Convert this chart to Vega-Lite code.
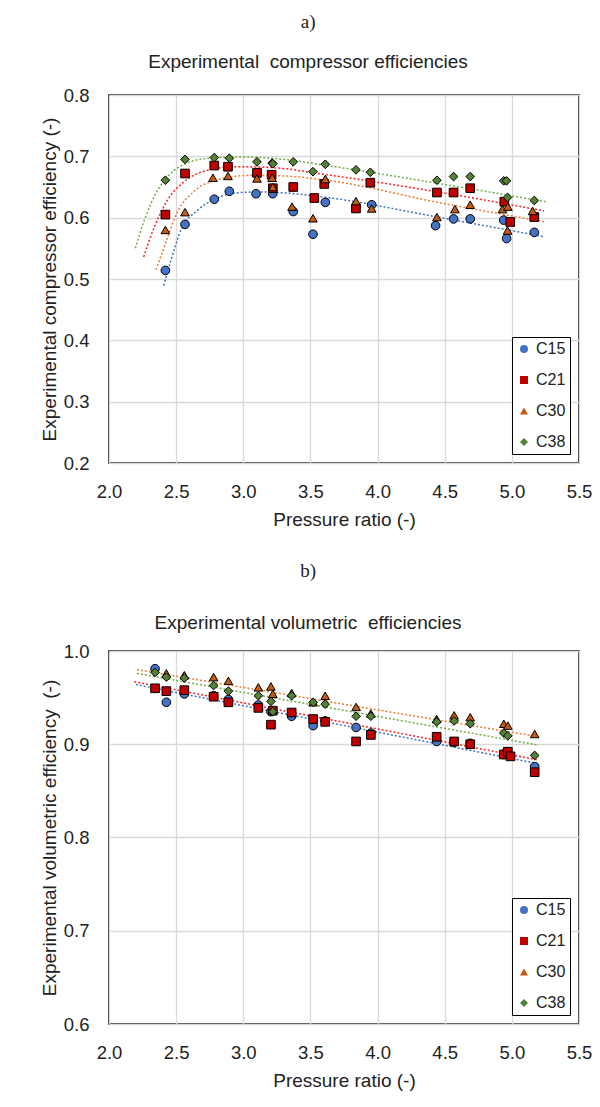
{
  "$schema": "https://vega.github.io/schema/vega-lite/v6.json",
  "padding": {"left": 39, "top": 12, "right": 5, "bottom": 5},
  "datasets": {
    "comp": [
      {"pr": 2.42, "eta": 0.514, "series": "C15"}, {"pr": 2.566, "eta": 0.589, "series": "C15"}, {"pr": 2.784, "eta": 0.630, "series": "C15"}, {"pr": 2.896, "eta": 0.643, "series": "C15"}, {"pr": 3.095, "eta": 0.639, "series": "C15"}, {"pr": 3.219, "eta": 0.639, "series": "C15"}, {"pr": 3.372, "eta": 0.610, "series": "C15"}, {"pr": 3.519, "eta": 0.573, "series": "C15"}, {"pr": 3.611, "eta": 0.625, "series": "C15"}, {"pr": 3.839, "eta": 0.618, "series": "C15"}, {"pr": 3.956, "eta": 0.621, "series": "C15"}, {"pr": 4.432, "eta": 0.587, "series": "C15"}, {"pr": 4.566, "eta": 0.598, "series": "C15"}, {"pr": 4.690, "eta": 0.598, "series": "C15"}, {"pr": 4.939, "eta": 0.596, "series": "C15"}, {"pr": 4.961, "eta": 0.566, "series": "C15"}, {"pr": 5.167, "eta": 0.576, "series": "C15"},
      {"pr": 2.42, "eta": 0.605, "series": "C21"}, {"pr": 2.566, "eta": 0.672, "series": "C21"}, {"pr": 2.784, "eta": 0.685, "series": "C21"}, {"pr": 2.886, "eta": 0.683, "series": "C21"}, {"pr": 3.102, "eta": 0.673, "series": "C21"}, {"pr": 3.211, "eta": 0.670, "series": "C21"}, {"pr": 3.22, "eta": 0.648, "series": "C21"}, {"pr": 3.372, "eta": 0.650, "series": "C21"}, {"pr": 3.529, "eta": 0.632, "series": "C21"}, {"pr": 3.603, "eta": 0.655, "series": "C21"}, {"pr": 3.839, "eta": 0.615, "series": "C21"}, {"pr": 3.946, "eta": 0.657, "series": "C21"}, {"pr": 4.442, "eta": 0.641, "series": "C21"}, {"pr": 4.566, "eta": 0.641, "series": "C21"}, {"pr": 4.690, "eta": 0.648, "series": "C21"}, {"pr": 4.944, "eta": 0.626, "series": "C21"}, {"pr": 4.988, "eta": 0.593, "series": "C21"}, {"pr": 5.167, "eta": 0.601, "series": "C21"},
      {"pr": 2.42, "eta": 0.580, "series": "C30"}, {"pr": 2.566, "eta": 0.609, "series": "C30"}, {"pr": 2.774, "eta": 0.665, "series": "C30"}, {"pr": 2.886, "eta": 0.668, "series": "C30"}, {"pr": 3.102, "eta": 0.664, "series": "C30"}, {"pr": 3.215, "eta": 0.665, "series": "C30"}, {"pr": 3.22, "eta": 0.650, "series": "C30"}, {"pr": 3.363, "eta": 0.618, "series": "C30"}, {"pr": 3.519, "eta": 0.599, "series": "C30"}, {"pr": 3.611, "eta": 0.663, "series": "C30"}, {"pr": 3.839, "eta": 0.627, "series": "C30"}, {"pr": 3.956, "eta": 0.615, "series": "C30"}, {"pr": 4.442, "eta": 0.601, "series": "C30"}, {"pr": 4.576, "eta": 0.614, "series": "C30"}, {"pr": 4.690, "eta": 0.621, "series": "C30"}, {"pr": 4.93, "eta": 0.614, "series": "C30"}, {"pr": 4.97, "eta": 0.618, "series": "C30"}, {"pr": 4.968, "eta": 0.579, "series": "C30"}, {"pr": 5.155, "eta": 0.611, "series": "C30"},
      {"pr": 2.42, "eta": 0.661, "series": "C38"}, {"pr": 2.566, "eta": 0.695, "series": "C38"}, {"pr": 2.784, "eta": 0.698, "series": "C38"}, {"pr": 2.896, "eta": 0.697, "series": "C38"}, {"pr": 3.102, "eta": 0.691, "series": "C38"}, {"pr": 3.215, "eta": 0.689, "series": "C38"}, {"pr": 3.22, "eta": 0.688, "series": "C38"}, {"pr": 3.372, "eta": 0.691, "series": "C38"}, {"pr": 3.519, "eta": 0.675, "series": "C38"}, {"pr": 3.611, "eta": 0.687, "series": "C38"}, {"pr": 3.839, "eta": 0.678, "series": "C38"}, {"pr": 3.946, "eta": 0.674, "series": "C38"}, {"pr": 4.442, "eta": 0.661, "series": "C38"}, {"pr": 4.566, "eta": 0.667, "series": "C38"}, {"pr": 4.690, "eta": 0.667, "series": "C38"}, {"pr": 4.939, "eta": 0.660, "series": "C38"}, {"pr": 4.96, "eta": 0.660, "series": "C38"}, {"pr": 4.968, "eta": 0.633, "series": "C38"}, {"pr": 5.167, "eta": 0.628, "series": "C38"}
    ],
    "compTrend": [
      {"pr": 2.407, "eta": 0.489, "fit": "C15 fit"}, {"pr": 2.462, "eta": 0.531, "fit": "C15 fit"}, {"pr": 2.536, "eta": 0.580, "fit": "C15 fit"}, {"pr": 2.66, "eta": 0.612, "fit": "C15 fit"}, {"pr": 2.784, "eta": 0.630, "fit": "C15 fit"}, {"pr": 2.933, "eta": 0.640, "fit": "C15 fit"}, {"pr": 3.13, "eta": 0.642, "fit": "C15 fit"}, {"pr": 3.33, "eta": 0.640, "fit": "C15 fit"}, {"pr": 3.653, "eta": 0.632, "fit": "C15 fit"}, {"pr": 4.447, "eta": 0.601, "fit": "C15 fit"}, {"pr": 5.24, "eta": 0.569, "fit": "C15 fit"},
      {"pr": 2.258, "eta": 0.536, "fit": "C21 fit"}, {"pr": 2.338, "eta": 0.585, "fit": "C21 fit"}, {"pr": 2.437, "eta": 0.629, "fit": "C21 fit"}, {"pr": 2.561, "eta": 0.659, "fit": "C21 fit"}, {"pr": 2.685, "eta": 0.674, "fit": "C21 fit"}, {"pr": 2.933, "eta": 0.683, "fit": "C21 fit"}, {"pr": 3.18, "eta": 0.682, "fit": "C21 fit"}, {"pr": 3.653, "eta": 0.669, "fit": "C21 fit"}, {"pr": 4.447, "eta": 0.642, "fit": "C21 fit"}, {"pr": 5.24, "eta": 0.611, "fit": "C21 fit"},
      {"pr": 2.35, "eta": 0.515, "fit": "C30 fit"}, {"pr": 2.412, "eta": 0.553, "fit": "C30 fit"}, {"pr": 2.511, "eta": 0.610, "fit": "C30 fit"}, {"pr": 2.635, "eta": 0.643, "fit": "C30 fit"}, {"pr": 2.809, "eta": 0.662, "fit": "C30 fit"}, {"pr": 3.057, "eta": 0.669, "fit": "C30 fit"}, {"pr": 3.30, "eta": 0.668, "fit": "C30 fit"}, {"pr": 3.653, "eta": 0.660, "fit": "C30 fit"}, {"pr": 4.447, "eta": 0.625, "fit": "C30 fit"}, {"pr": 5.254, "eta": 0.593, "fit": "C30 fit"},
      {"pr": 2.196, "eta": 0.550, "fit": "C38 fit"}, {"pr": 2.263, "eta": 0.596, "fit": "C38 fit"}, {"pr": 2.35, "eta": 0.640, "fit": "C38 fit"}, {"pr": 2.437, "eta": 0.667, "fit": "C38 fit"}, {"pr": 2.56, "eta": 0.687, "fit": "C38 fit"}, {"pr": 2.75, "eta": 0.697, "fit": "C38 fit"}, {"pr": 3.0, "eta": 0.699, "fit": "C38 fit"}, {"pr": 3.3, "eta": 0.695, "fit": "C38 fit"}, {"pr": 3.653, "eta": 0.684, "fit": "C38 fit"}, {"pr": 4.447, "eta": 0.656, "fit": "C38 fit"}, {"pr": 5.254, "eta": 0.626, "fit": "C38 fit"}
    ],
    "vol": [
      {"pr": 2.343, "eta": 0.981, "series": "C15"}, {"pr": 2.427, "eta": 0.945, "series": "C15"}, {"pr": 2.561, "eta": 0.954, "series": "C15"}, {"pr": 2.779, "eta": 0.952, "series": "C15"}, {"pr": 2.889, "eta": 0.948, "series": "C15"}, {"pr": 3.112, "eta": 0.942, "series": "C15"}, {"pr": 3.206, "eta": 0.935, "series": "C15"}, {"pr": 3.36, "eta": 0.930, "series": "C15"}, {"pr": 3.52, "eta": 0.920, "series": "C15"}, {"pr": 3.61, "eta": 0.925, "series": "C15"}, {"pr": 3.84, "eta": 0.918, "series": "C15"}, {"pr": 3.95, "eta": 0.912, "series": "C15"}, {"pr": 4.44, "eta": 0.903, "series": "C15"}, {"pr": 4.57, "eta": 0.902, "series": "C15"}, {"pr": 4.69, "eta": 0.901, "series": "C15"}, {"pr": 4.94, "eta": 0.889, "series": "C15"}, {"pr": 4.96, "eta": 0.892, "series": "C15"}, {"pr": 5.17, "eta": 0.876, "series": "C15"},
      {"pr": 2.343, "eta": 0.960, "series": "C21"}, {"pr": 2.427, "eta": 0.957, "series": "C21"}, {"pr": 2.561, "eta": 0.958, "series": "C21"}, {"pr": 2.779, "eta": 0.951, "series": "C21"}, {"pr": 2.889, "eta": 0.945, "series": "C21"}, {"pr": 3.112, "eta": 0.939, "series": "C21"}, {"pr": 3.206, "eta": 0.921, "series": "C21"}, {"pr": 3.22, "eta": 0.936, "series": "C21"}, {"pr": 3.36, "eta": 0.934, "series": "C21"}, {"pr": 3.52, "eta": 0.927, "series": "C21"}, {"pr": 3.61, "eta": 0.924, "series": "C21"}, {"pr": 3.84, "eta": 0.903, "series": "C21"}, {"pr": 3.95, "eta": 0.910, "series": "C21"}, {"pr": 4.44, "eta": 0.908, "series": "C21"}, {"pr": 4.57, "eta": 0.903, "series": "C21"}, {"pr": 4.69, "eta": 0.900, "series": "C21"}, {"pr": 4.94, "eta": 0.889, "series": "C21"}, {"pr": 4.97, "eta": 0.892, "series": "C21"}, {"pr": 4.99, "eta": 0.887, "series": "C21"}, {"pr": 5.17, "eta": 0.870, "series": "C21"},
      {"pr": 2.427, "eta": 0.976, "series": "C30"}, {"pr": 2.561, "eta": 0.974, "series": "C30"}, {"pr": 2.779, "eta": 0.972, "series": "C30"}, {"pr": 2.889, "eta": 0.968, "series": "C30"}, {"pr": 3.112, "eta": 0.961, "series": "C30"}, {"pr": 3.206, "eta": 0.962, "series": "C30"}, {"pr": 3.22, "eta": 0.954, "series": "C30"}, {"pr": 3.36, "eta": 0.955, "series": "C30"}, {"pr": 3.52, "eta": 0.945, "series": "C30"}, {"pr": 3.61, "eta": 0.952, "series": "C30"}, {"pr": 3.84, "eta": 0.940, "series": "C30"}, {"pr": 3.95, "eta": 0.933, "series": "C30"}, {"pr": 4.44, "eta": 0.927, "series": "C30"}, {"pr": 4.57, "eta": 0.931, "series": "C30"}, {"pr": 4.69, "eta": 0.929, "series": "C30"}, {"pr": 4.94, "eta": 0.922, "series": "C30"}, {"pr": 4.97, "eta": 0.920, "series": "C30"}, {"pr": 5.17, "eta": 0.911, "series": "C30"},
      {"pr": 2.343, "eta": 0.977, "series": "C38"}, {"pr": 2.427, "eta": 0.972, "series": "C38"}, {"pr": 2.561, "eta": 0.971, "series": "C38"}, {"pr": 2.779, "eta": 0.963, "series": "C38"}, {"pr": 2.889, "eta": 0.957, "series": "C38"}, {"pr": 3.112, "eta": 0.952, "series": "C38"}, {"pr": 3.206, "eta": 0.946, "series": "C38"}, {"pr": 3.22, "eta": 0.935, "series": "C38"}, {"pr": 3.36, "eta": 0.952, "series": "C38"}, {"pr": 3.52, "eta": 0.945, "series": "C38"}, {"pr": 3.61, "eta": 0.943, "series": "C38"}, {"pr": 3.84, "eta": 0.930, "series": "C38"}, {"pr": 3.95, "eta": 0.930, "series": "C38"}, {"pr": 4.44, "eta": 0.924, "series": "C38"}, {"pr": 4.57, "eta": 0.925, "series": "C38"}, {"pr": 4.69, "eta": 0.922, "series": "C38"}, {"pr": 4.94, "eta": 0.912, "series": "C38"}, {"pr": 4.97, "eta": 0.909, "series": "C38"}, {"pr": 5.17, "eta": 0.888, "series": "C38"}
    ],
    "volTrend": [
      {"pr": 2.20, "eta": 0.964, "fit": "C15 fit"}, {"pr": 5.20, "eta": 0.879, "fit": "C15 fit"},
      {"pr": 2.188, "eta": 0.967, "fit": "C21 fit"}, {"pr": 5.20, "eta": 0.883, "fit": "C21 fit"},
      {"pr": 2.208, "eta": 0.980, "fit": "C30 fit"}, {"pr": 5.20, "eta": 0.908, "fit": "C30 fit"},
      {"pr": 2.208, "eta": 0.976, "fit": "C38 fit"}, {"pr": 5.20, "eta": 0.899, "fit": "C38 fit"}
    ]
  },
  "vconcat": [
    {
      "width": 470,
      "height": 368,
      "title": {"text": "a)", "subtitle": "Experimental\u00a0 compressor efficiencies", "subtitlePadding": 21, "offset": 14, "dx": -8},
      "encoding": {
        "x": {"field": "pr", "type": "quantitative", "title": "Pressure ratio (-)", "scale": {"domain": [2, 5.5], "nice": false, "zero": false}, "axis": {"values": [2, 2.5, 3, 3.5, 4, 4.5, 5, 5.5], "format": ".1f"}},
        "y": {"field": "eta", "type": "quantitative", "title": "Experimental compressor efficiency (-)", "scale": {"domain": [0.2, 0.8], "nice": false, "zero": false}, "axis": {"values": [0.2, 0.3, 0.4, 0.5, 0.6, 0.7, 0.8], "format": ".1f"}}
      },
      "layer": [
        {
          "data": {"name": "compTrend"},
          "mark": {"type": "line", "strokeDash": [2, 2], "strokeWidth": 1.5, "interpolate": "monotone"},
          "encoding": {
            "stroke": {"field": "fit", "type": "nominal", "legend": null, "scale": {"domain": ["C15 fit", "C21 fit", "C30 fit", "C38 fit"], "range": ["#4472C4", "#FF2020", "#ED7D31", "#70AD47"]}}
          }
        },
        {
          "data": {"name": "comp"},
          "mark": {"type": "point", "filled": true, "size": 75, "stroke": "black", "strokeWidth": 1, "opacity": 1},
          "encoding": {
            "fill": {"field": "series", "type": "nominal", "title": null, "scale": {"domain": ["C15", "C21", "C30", "C38"], "range": ["#4472C4", "#C00000", "#C55A11", "#548235"]}, "legend": {"orient": "bottom-right", "offset": 9, "symbolStrokeColor": "black", "symbolStrokeWidth": 1}},
            "shape": {"field": "series", "type": "nominal", "title": null, "scale": {"domain": ["C15", "C21", "C30", "C38"], "range": ["circle", "square", "triangle-up", "diamond"]}, "legend": {"orient": "bottom-right", "offset": 9, "symbolStrokeColor": "black", "symbolStrokeWidth": 1}}
          }
        }
      ]
    },
    {
      "width": 470,
      "height": 373,
      "title": {"text": "b)", "subtitle": "Experimental volumetric\u00a0 efficiencies", "subtitlePadding": 33, "offset": 9, "dx": -8},
      "encoding": {
        "x": {"field": "pr", "type": "quantitative", "title": "Pressure ratio (-)", "scale": {"domain": [2, 5.5], "nice": false, "zero": false}, "axis": {"values": [2, 2.5, 3, 3.5, 4, 4.5, 5, 5.5], "format": ".1f"}},
        "y": {"field": "eta", "type": "quantitative", "title": "Experimental volumetric efficiency\u00a0 (-)", "scale": {"domain": [0.6, 1.0], "nice": false, "zero": false}, "axis": {"values": [0.6, 0.7, 0.8, 0.9, 1.0], "format": ".1f"}}
      },
      "layer": [
        {
          "data": {"name": "volTrend"},
          "mark": {"type": "line", "strokeDash": [2, 2], "strokeWidth": 1.5},
          "encoding": {
            "stroke": {"field": "fit", "type": "nominal", "legend": null, "scale": {"domain": ["C15 fit", "C21 fit", "C30 fit", "C38 fit"], "range": ["#4472C4", "#FF2020", "#ED7D31", "#70AD47"]}}
          }
        },
        {
          "data": {"name": "vol"},
          "mark": {"type": "point", "filled": true, "size": 75, "stroke": "black", "strokeWidth": 1, "opacity": 1},
          "encoding": {
            "fill": {"field": "series", "type": "nominal", "title": null, "scale": {"domain": ["C15", "C21", "C30", "C38"], "range": ["#4472C4", "#C00000", "#C55A11", "#548235"]}, "legend": {"orient": "bottom-right", "offset": 9, "symbolStrokeColor": "black", "symbolStrokeWidth": 1}},
            "shape": {"field": "series", "type": "nominal", "title": null, "scale": {"domain": ["C15", "C21", "C30", "C38"], "range": ["circle", "square", "triangle-up", "diamond"]}, "legend": {"orient": "bottom-right", "offset": 9, "symbolStrokeColor": "black", "symbolStrokeWidth": 1}}
          }
        }
      ]
    }
  ],
  "spacing": 30,
  "resolve": {
    "scale": {"fill": "independent", "shape": "independent", "stroke": "independent"}
  },
  "config": {
    "font": "Liberation Sans",
    "background": "white",
    "view": {"stroke": "black", "strokeWidth": 1.5},
    "axis": {
      "grid": true, "gridColor": "#d9d9d9", "gridWidth": 1.3, "domain": false, "ticks": false,
      "labelFont": "Liberation Sans", "labelFontSize": 18.5, "labelColor": "#222",
      "titleFont": "Liberation Sans", "titleFontSize": 19, "titleFontWeight": "normal", "titleColor": "#222"
    },
    "axisX": {"labelPadding": 19, "titlePadding": 10, "labelFlush": false},
    "axisY": {"labelPadding": 20, "titlePadding": 4},
    "legend": {
      "strokeColor": "black", "fillColor": "white",
      "padding": 4, "labelFont": "Liberation Sans", "labelFontSize": 16, "labelColor": "#222",
      "symbolSize": 65, "symbolStrokeColor": "black", "symbolStrokeWidth": 1,
      "rowPadding": 15, "labelOffset": 4
    },
    "title": {
      "font": "Liberation Serif", "fontSize": 19, "fontWeight": "normal", "color": "#222",
      "subtitleFont": "Liberation Sans", "subtitleFontSize": 19, "subtitleColor": "#222",
      "anchor": "middle", "frame": "bounds"
    }
  }
}
